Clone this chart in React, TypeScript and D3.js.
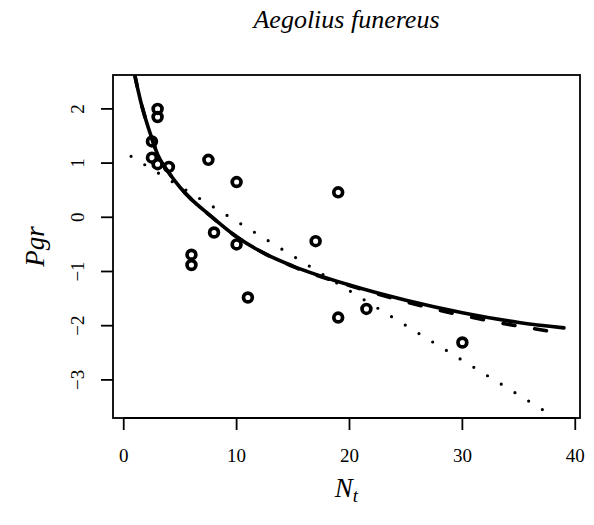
import React from "react";
import * as d3 from "d3";

// observed data points
const ptsN = [2.5, 2.5, 3, 3, 3, 4, 6, 6, 7.5, 8, 10, 10, 11, 17, 19, 19, 21.5, 30];
const ptsY = [1.4, 1.1, 2.0, 1.85, 0.98, 0.93, -0.69, -0.88, 1.06, -0.28, 0.65, -0.5, -1.48, -0.44, 0.46, -1.85, -1.69, -2.31];

// solid fitted curve
const solidN = [0.97, 1.5, 2, 2.5, 3, 4, 5, 6, 7.5, 10, 12.5, 15, 20, 25, 30, 35, 39];
const solidY = [2.63, 2.14, 1.77, 1.45, 1.16, 0.82, 0.55, 0.33, 0.06, -0.36, -0.67, -0.9, -1.25, -1.53, -1.76, -1.94, -2.04];

// dashed fitted curve
const dashN = [0.97, 1.5, 2, 2.5, 3, 4, 5, 6, 7.5, 10, 12.5, 15, 20, 25, 30, 35, 37.7];
const dashY = [2.63, 2.14, 1.77, 1.45, 1.16, 0.82, 0.55, 0.33, 0.06, -0.36, -0.67, -0.91, -1.26, -1.56, -1.81, -2.01, -2.1];

// dotted linear fit
const dotN = [0.65, 37.5];
const dotY = [1.125, -3.6];

const xTicks = [0, 10, 20, 30, 40];
const yTicks = [-3, -2, -1, 0, 1, 2];

const title = "Aegolius funereus";

export default function App() {
  const W = 594, H = 525;
  const L = 113, R = 580, T = 75, B = 418;
  const x = d3.scaleLinear().domain([-0.95, 40.42]).range([L, R]);
  const y = d3.scaleLinear().domain([-3.703, 2.625]).range([B, T]);

  const line = d3
    .line<[number, number]>()
    .x((d) => x(d[0]))
    .y((d) => y(d[1]))
    .curve(d3.curveMonotoneX);
  const straight = d3
    .line<[number, number]>()
    .x((d) => x(d[0]))
    .y((d) => y(d[1]));

  const solid = solidN.map((n, i) => [n, solidY[i]] as [number, number]);
  const dashed = dashN.map((n, i) => [n, dashY[i]] as [number, number]);
  const dotted = dotN.map((n, i) => [n, dotY[i]] as [number, number]);

  const fmt = (v: number) => (v < 0 ? "\u2212" + Math.abs(v) : String(v));
  const font = "'Liberation Serif', 'Times New Roman', serif";

  return (
    <svg
      width={W}
      height={H}
      style={{ position: "absolute", left: 0, top: 0, display: "block", background: "#fff" }}
      fontFamily={font}
    >
      <rect x={0} y={0} width={W} height={H} fill="#fff" />
      <text x={(L + R) / 2} y={28} textAnchor="middle" fontStyle="italic" fontSize={26}>
        {title}
      </text>

      <defs>
        <clipPath id="plotclip">
          <rect x={L} y={T} width={R - L} height={B - T} />
        </clipPath>
      </defs>

      <g clipPath="url(#plotclip)">
        <path
          d={straight(dotted) || ""}
          fill="none"
          stroke="#000"
          strokeWidth={3.2}
          strokeLinecap="round"
          strokeDasharray="0 16.1"
        />
        <path
          d={line(dashed) || ""}
          fill="none"
          stroke="#000"
          strokeWidth={3.6}
          strokeLinecap="round"
          strokeDasharray="12 20"
        />
        <path d={line(solid) || ""} fill="none" stroke="#000" strokeWidth={3.6} strokeLinecap="round" />
        {ptsN.map((n, i) => (
          <circle key={i} cx={x(n)} cy={y(ptsY[i])} r={4.4} fill="none" stroke="#000" strokeWidth={3.7} />
        ))}
      </g>

      <rect x={L} y={T} width={R - L} height={B - T} fill="none" stroke="#000" strokeWidth={1.8} />

      {xTicks.map((t) => (
        <g key={"x" + t}>
          <line x1={x(t)} x2={x(t)} y1={B} y2={B + 12} stroke="#000" strokeWidth={1.8} />
          <text x={x(t)} y={462} textAnchor="middle" fontSize={19}>
            {fmt(t)}
          </text>
        </g>
      ))}
      <line x1={x(0)} x2={x(40)} y1={B} y2={B} stroke="#000" strokeWidth={1.8} />

      {yTicks.map((t) => (
        <g key={"y" + t}>
          <line x1={L - 12} x2={L} y1={y(t)} y2={y(t)} stroke="#000" strokeWidth={1.8} />
          <text
            transform={`translate(84,${y(t)}) rotate(-90)`}
            textAnchor="middle"
            fontSize={19}
          >
            {fmt(t)}
          </text>
        </g>
      ))}

      <text x={(L + R) / 2} y={497} textAnchor="middle" fontStyle="italic" fontSize={27}>
        N
        <tspan fontSize={19} dy={5}>t</tspan>
      </text>
      <text
        transform={`translate(44,${(T + B) / 2}) rotate(-90)`}
        textAnchor="middle"
        fontStyle="italic"
        fontSize={27}
      >
        Pgr
      </text>
    </svg>
  );
}
